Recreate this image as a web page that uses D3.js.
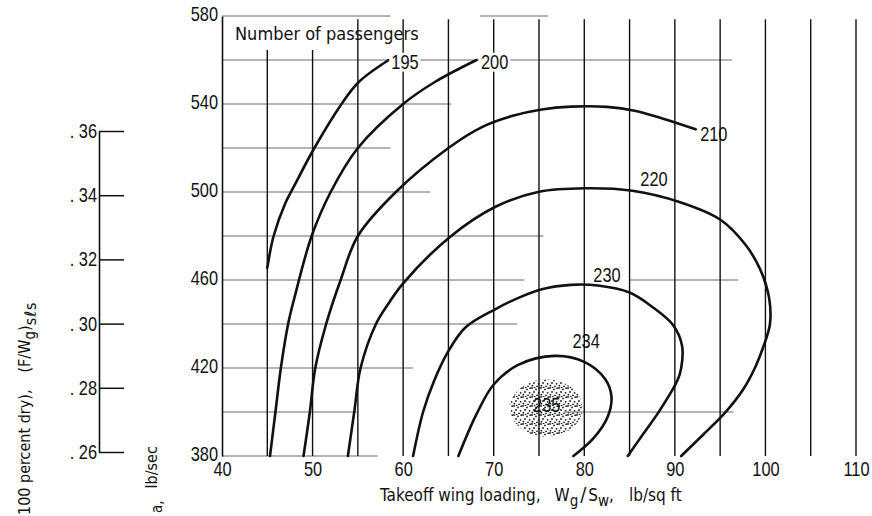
<!DOCTYPE html>
<html><head><meta charset="utf-8">
<script src="https://cdn.jsdelivr.net/npm/d3@7"></script>
<style>
body{margin:0;background:#fff;}
svg{display:block;}
.num{font-family:"Liberation Sans",Arial,sans-serif;font-size:20px;fill:#111;}
.txt{font-family:"DejaVu Sans Condensed","DejaVu Sans",sans-serif;font-size:17px;fill:#111;}
</style></head><body>
<svg id="c" width="872" height="516"></svg>
<script>
// ---------- data ----------
const xTicks = [40, 50, 60, 70, 80, 90, 100, 110];
const yTicks = [380, 420, 460, 500, 540, 580];
const vGrid = [45, 50, 55, 60, 65, 70, 75, 80, 85, 90, 95, 100, 105, 110];
const vGridShort = [45, 50];
// horizontal grid segments: [y value, x start, x end]
const hGrid = [
  [580, 40, 58.6], [580, 68.5, 76],
  [560, 40, 96.3], [540, 40, 65.3], [520, 40, 58.6], [500, 40, 63],
  [480, 40, 75.5], [460, 40, 73.4], [460, 85, 97], [440, 40, 72.6],
  [420, 40, 61.1], [400, 40, 55], [400, 77.8, 96.5], [380, 40, 57.2]
];
const leftTicks = [0.26, 0.28, 0.30, 0.32, 0.34, 0.36];
const leftTickLabels = [". 26", ". 28", ". 30", ". 32", ". 34", ". 36"];

const pass195 = [[45.0,465.5],[45.7,480],[47.0,495],[48.0,503],[50.2,520],[53.2,540],[55.1,550],[58.4,560]];
const pass200 = [[45.3,380],[45.9,400],[46.5,420],[47.3,440],[48.0,452],[49.9,480],[52.0,500],[55.0,520],[60.0,540],[63.5,550],[68.1,560]];
const pass210 = [[49.0,380],[49.7,400],[50.3,420],[51.5,440],[53.1,460],[55.0,480],[59.2,500],[65.0,520],[68.7,529.5],[72.0,534.5],[75.3,537.5],[78.5,538.8],[82.5,538.7],[85.7,536.8],[88.8,533.2],[92.3,528.5]];
const pass220 = [[53.9,380],[54.6,400],[55.3,420],[57.0,440],[58.5,450],[60.0,458.5],[65.2,479.7],[70.2,493.3],[75.0,500.1],[80.1,501.7],[85.3,500.6],[90.5,495.5],[95.0,487.5],[97.8,476],[99.4,465],[100.4,452],[100.5,440],[99.8,430],[98.9,420.6],[97.5,410],[95.5,399.5],[93.2,390],[90.7,380]];
const pass230 = [[61.1,380],[62.2,400],[63.4,414],[64.9,427],[66.9,438.5],[70.2,446.8],[72.8,452],[75.3,455.8],[78.5,457.8],[81.5,457.5],[85.0,454.3],[87.6,447.5],[89.8,439.5],[90.8,430],[90.7,420],[90.3,414.5],[88.3,400.5],[86.5,390],[84.8,380]];
const pass234 = [[66.1,380],[68.1,399],[70.0,412.5],[72.7,421.4],[76.7,425.5],[80.0,422.8],[82.3,415],[83.0,407],[82.6,398],[81.0,388],[78.8,380]];
const contours = [pass195, pass200, pass210, pass220, pass230, pass234];

const contourLabels = ["195", "200", "210", "220", "230", "234", "235"];
const labelX = [60.2, 70.1, 94.3, 87.7, 82.5, 80.2, 75.85];
const labelY = [559, 559, 526.6, 505.9, 462.3, 432.5, 403.2];
const boxedLabels = ["195", "200"];

const optimumCenter = [75.8, 401.8];
const optimumRadius = [4.0, 13.0];

// ---------- chart ----------
const NARROW = 0.82;
const svg = d3.select("#c");
const x = d3.scaleLinear().domain([40, 110]).range([222, 856]);
const y = d3.scaleLinear().domain([380, 580]).range([456, 16]);
const yL = d3.scaleLinear().domain([0.26, 0.36]).range([452, 131]);

function narrowAxisText(sel) {
  sel.each(function () {
    const t = d3.select(this);
    const xx = +t.attr("x") || 0;
    t.attr("class", "num").attr("font-family", null).attr("font-size", null)
      .attr("x", xx / NARROW).attr("transform", `scale(${NARROW},1)`);
  });
}

// stipple pattern
const defs = svg.append("defs");
const pat = defs.append("pattern").attr("id", "stip").attr("patternUnits", "userSpaceOnUse")
  .attr("width", 9).attr("height", 9);
[[1,1],[5,2.4],[3,5],[7.6,5.8],[1.4,7.7],[6,8.3],[8.2,1.2],[3.6,0.2]].forEach(p =>
  pat.append("circle").attr("cx", p[0]).attr("cy", p[1]).attr("r", 0.9).attr("fill", "#1a1a1a"));

// stippled optimum region
svg.append("ellipse")
  .attr("cx", x(optimumCenter[0])).attr("cy", y(optimumCenter[1]))
  .attr("rx", x(optimumCenter[0] + optimumRadius[0]) - x(optimumCenter[0]))
  .attr("ry", y(optimumCenter[1]) - y(optimumCenter[1] + optimumRadius[1]))
  .attr("fill", "url(#stip)");

// horizontal grid
svg.append("g").selectAll("line").data(hGrid).join("line")
  .attr("x1", d => x(d[1])).attr("x2", d => x(d[2]))
  .attr("y1", d => y(d[0])).attr("y2", d => y(d[0]))
  .attr("stroke", "#6a6a6a").attr("stroke-width", 1);

// vertical grid
svg.append("g").selectAll("line").data(vGrid).join("line")
  .attr("x1", d => x(d)).attr("x2", d => x(d))
  .attr("y1", y(380)).attr("y2", d => vGridShort.includes(d) ? y(564.5) : y(578.5))
  .attr("stroke", "#111").attr("stroke-width", 1.4);

// main y axis
const gy = svg.append("g").attr("transform", `translate(${x(40)},0)`)
  .call(d3.axisLeft(y).tickValues(yTicks).tickSize(0).tickPadding(4).tickFormat(d3.format("d")));
gy.select(".domain").attr("stroke", "#111").attr("stroke-width", 1.6);
narrowAxisText(gy.selectAll("text"));
gy.selectAll("text").attr("dy", "0.2em");

// x axis (labels only)
const gx = svg.append("g").attr("transform", `translate(0,${y(380)})`)
  .call(d3.axisBottom(x).tickValues(xTicks).tickSize(0).tickPadding(6).tickFormat(d3.format("d")));
gx.select(".domain").remove();
narrowAxisText(gx.selectAll("text"));

// contours
const line = d3.line().x(d => x(d[0])).y(d => y(d[1])).curve(d3.curveCatmullRom.alpha(0.5));
svg.append("g").selectAll("path").data(contours).join("path")
  .attr("d", line).attr("fill", "none").attr("stroke", "#111").attr("stroke-width", 2.6)
  .attr("stroke-linecap", "round");

// contour labels
const lg = svg.append("g");
contourLabels.forEach((t, i) => {
  const g = lg.append("g").attr("transform", `translate(${x(labelX[i])},${y(labelY[i])})`);
  const tx = g.append("text").attr("class", "num")
    .attr("transform", `scale(${NARROW},1)`)
    .attr("text-anchor", "middle").attr("dominant-baseline", "central").text(t);
  if (boxedLabels.includes(t)) {
    const b = tx.node().getBBox();
    g.insert("rect", "text").attr("x", b.x * NARROW - 2).attr("y", b.y + 2)
      .attr("width", b.width * NARROW + 4).attr("height", b.height - 4).attr("fill", "#fff");
  }
});

svg.append("text").attr("class", "txt").attr("x", 235).attr("y", 40)
  .style("font-size", "18px").text("Number of passengers");

// x axis title
const xt = svg.append("text").attr("class", "txt").attr("x", 380).attr("y", 501);
xt.append("tspan").text("Takeoff wing loading,");
xt.append("tspan").attr("dx", 14).text("W");
xt.append("tspan").attr("dy", 5).style("font-size", "15px").text("g");
xt.append("tspan").attr("dy", -5).attr("dx", 2).style("font-size", "20px").text("/");
xt.append("tspan").attr("dx", 2).text("S");
xt.append("tspan").attr("dy", 5).style("font-size", "15px").text("w");
xt.append("tspan").attr("dy", -5).text(",");
xt.append("tspan").attr("dx", 15).text("lb/sq ft");

// left auxiliary scale
const gl = svg.append("g").attr("transform", "translate(99,0)")
  .call(d3.axisLeft(yL).tickValues(leftTicks).tickSizeInner(-25).tickSizeOuter(0).tickPadding(2)
    .tickFormat((d, i) => leftTickLabels[i]));
gl.select(".domain").attr("stroke", "#111").attr("stroke-width", 1.6);
gl.selectAll(".tick line").attr("stroke", "#111").attr("stroke-width", 1.5);
narrowAxisText(gl.selectAll("text"));
gl.selectAll("text").style("white-space", "pre");

// rotated left titles
const t1 = svg.append("text").attr("class", "txt").style("font-size", "16px")
  .attr("transform", "translate(30,515) rotate(-90)");
t1.append("tspan").text("100 percent dry),");
t1.append("tspan").attr("dx", 17).text("(F/W");
t1.append("tspan").attr("dy", 5).style("font-size", "15px").text("g");
t1.append("tspan").attr("dy", -5).text(")");
t1.append("tspan").attr("dy", 6).style("font-size", "16px").style("letter-spacing", "1px").text("sℓs");

const t2 = svg.append("text").attr("class", "txt").style("font-size", "16px")
  .attr("transform", "translate(157,513) rotate(-90)");
t2.append("tspan").attr("dy", 5).style("font-size", "15px").text("a,");
t2.append("tspan").attr("dy", -5).attr("dx", 12).text("lb/sec");
</script></body></html>
